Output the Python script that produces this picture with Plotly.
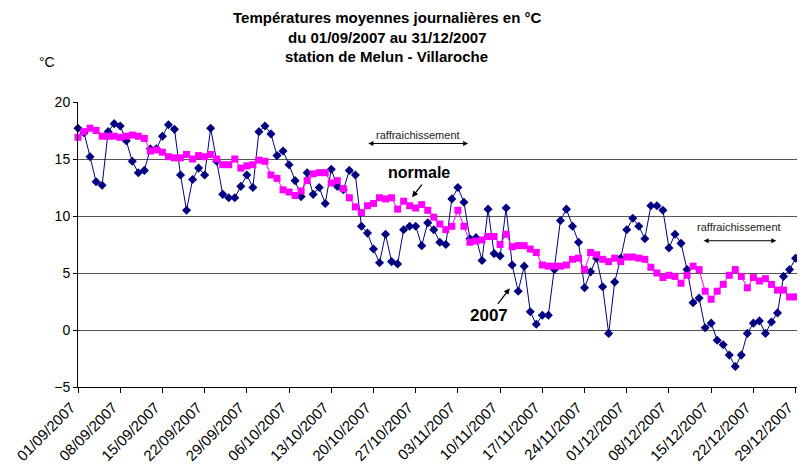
import plotly.graph_objects as go
import pandas as pd

# jours du 01/09/2007 au 31/12/2007
jours = pd.date_range("2007-09-01", "2007-12-31").strftime("%d/%m/%Y").tolist()

temp_2007 = [
    17.7, 17.3, 15.2, 13.0, 12.7, 17.4, 18.1, 17.9, 16.6, 14.8,
    13.8, 14.0, 15.9, 15.9, 17.0, 18.0, 17.6, 13.6, 10.5, 13.2,
    14.2, 13.6, 17.7, 14.8, 11.9, 11.6, 11.6, 12.6, 13.6, 12.5,
    17.4, 17.9, 17.2, 15.3, 15.7, 14.5, 13.1, 11.7, 13.8, 11.9,
    12.5, 11.1, 14.1, 12.6, 12.3, 14.0, 13.6, 9.1, 8.5, 7.1,
    5.9, 8.4, 6.0, 5.8, 8.8, 9.1, 9.1, 7.4, 9.4, 8.8,
    7.7, 7.5, 11.5, 12.5, 11.2, 8.0, 8.1, 6.1, 10.6, 6.7,
    6.5, 10.7, 5.7, 3.4, 5.6, 1.6, 0.5, 1.3, 1.3, 5.3,
    9.6, 10.6, 9.1, 7.7, 3.7, 5.1, 6.3, 3.8, -0.3, 4.2,
    6.3, 8.8, 9.8, 9.1, 8.0, 10.9, 10.9, 10.5, 7.2, 8.4,
    7.6, 5.3, 2.4, 2.8, 0.2, 0.6, -0.9, -1.3, -2.2, -3.2,
    -2.2, -0.3, 0.6, 0.8, -0.3, 0.7, 1.5, 4.7, 5.3, 6.3,
    5.5, 4.3,
]

temp_normale = [
    16.9, 17.4, 17.7, 17.5, 17.0, 17.0, 17.0, 16.9, 17.0, 17.1,
    17.0, 16.8, 15.7, 15.8, 15.6, 15.2, 15.1, 15.1, 15.4, 15.0,
    15.3, 15.2, 15.4, 15.0, 14.5, 14.5, 15.0, 14.2, 14.4, 14.5,
    14.9, 14.8, 13.6, 13.3, 12.3, 12.1, 11.8, 12.2, 13.1, 13.7,
    13.8, 13.8, 12.9, 13.1, 12.4, 11.6, 10.8, 10.3, 10.9, 11.1,
    11.6, 11.5, 11.6, 10.6, 11.3, 10.9, 10.7, 11.0, 10.5, 9.9,
    9.3, 8.8, 9.1, 10.5, 9.1, 7.7, 7.8, 7.9, 8.2, 8.2,
    7.5, 8.4, 7.3, 7.4, 7.4, 7.1, 6.8, 5.7, 5.6, 5.6,
    5.6, 5.7, 6.2, 6.3, 5.3, 6.8, 6.6, 6.2, 6.0, 6.3,
    6.0, 6.4, 6.4, 6.3, 6.2, 5.5, 5.0, 4.6, 4.8, 4.7,
    4.1, 4.8, 5.6, 5.3, 3.4, 2.7, 3.4, 4.0, 4.8, 5.3,
    4.7, 3.7, 4.6, 4.3, 4.5, 4.0, 3.5, 3.5, 2.9, 2.9,
    4.0, 4.0,
]

tick_labels = jours[::7]

FONT = "Arial, Liberation Sans, sans-serif"

fig = go.Figure()

fig.add_trace(go.Scatter(
    x=jours, y=temp_2007, mode="lines+markers", name="2007",
    line=dict(color="#000080", width=1),
    marker=dict(symbol="diamond", size=7, color="#000080"),
    cliponaxis=False,
))

fig.add_trace(go.Scatter(
    x=jours, y=temp_normale, mode="lines+markers", name="normale",
    line=dict(color="#FF00FF", width=1),
    marker=dict(symbol="square", size=7, color="#FF00FF"),
    cliponaxis=False,
))

# titre
titre = ["Températures moyennes journalières en °C",
         "du 01/09/2007 au 31/12/2007",
         "station de Melun - Villaroche"]
for k, ligne in enumerate(titre):
    fig.add_annotation(
        x=0.425, y=1.298 - 0.07 * k, xref="paper", yref="paper",
        text=f"<b>{ligne}</b>", showarrow=False,
        xanchor="center", yanchor="middle",
        font=dict(family=FONT, size=15, color="black"),
    )

fig.add_annotation(x=-0.057, y=1.175, xref="paper", yref="paper", text="°C",
                   showarrow=False, font=dict(family=FONT, size=14, color="black"))

# raffraichissement (double flèches)
for (x0, x1, ya, yt) in [(47.9, 64.7, 16.36, 17.08), (103.5, 115.8, 7.83, 9.03)]:
    fig.add_annotation(
        x=x1, y=ya, ax=x0, ay=ya, xref="x", yref="y", axref="x", ayref="y",
        text="", showarrow=True, arrowhead=2, startarrowhead=2,
        arrowside="end+start", arrowsize=1, arrowwidth=1, arrowcolor="black",
    )
    fig.add_annotation(
        x=(x0 + x1) / 2, y=yt, xref="x", yref="y", text="raffraichissement",
        showarrow=False, font=dict(family=FONT, size=11, color="#222"),
    )

# étiquettes des séries
fig.add_annotation(x=56.6, y=13.8, xref="x", yref="y", text="<b>normale</b>",
                   showarrow=False, font=dict(family=FONT, size=16, color="black"))
fig.add_annotation(x=55.4, y=11.65, xref="x", yref="y", ax=11, ay=-14, text="",
                   showarrow=True, arrowhead=2, arrowsize=1, arrowwidth=1.2,
                   arrowcolor="black")
fig.add_annotation(x=68.2, y=1.3, xref="x", yref="y", text="<b>2007</b>",
                   showarrow=False, font=dict(family=FONT, size=17, color="black"))
fig.add_annotation(x=71.6, y=3.66, xref="x", yref="y", ax=-13, ay=17, text="",
                   showarrow=True, arrowhead=2, arrowsize=1, arrowwidth=1.2,
                   arrowcolor="black")

# la page ajoute une marge de 8 px : figure un peu plus petite pour compenser
fig.update_layout(
    width=797, height=458,
    showlegend=False,
    paper_bgcolor="white", plot_bgcolor="white",
    margin=dict(l=70, r=0, t=94, b=79),
    font=dict(family=FONT, color="black"),
    xaxis=dict(
        type="category", range=[0, 120.56], automargin=False,
        tickmode="array", tickvals=tick_labels, ticktext=tick_labels,
        tickangle=-45, ticks="outside", ticklen=5, tickcolor="black",
        ticklabelshift=-7,
        showline=True, linecolor="black", linewidth=1,
        showgrid=False, zeroline=False,
        tickfont=dict(family=FONT, size=15, color="black"),
    ),
    yaxis=dict(
        range=[-5, 20], tickmode="linear", tick0=-5, dtick=5, automargin=False,
        ticks="outside", ticklen=4, tickcolor="black",
        showline=True, linecolor="black", linewidth=1,
        showgrid=True, gridcolor="#555", gridwidth=1, zeroline=False,
        tickfont=dict(family=FONT, size=14, color="black"),
    ),
)

fig.write_html("out.html")
